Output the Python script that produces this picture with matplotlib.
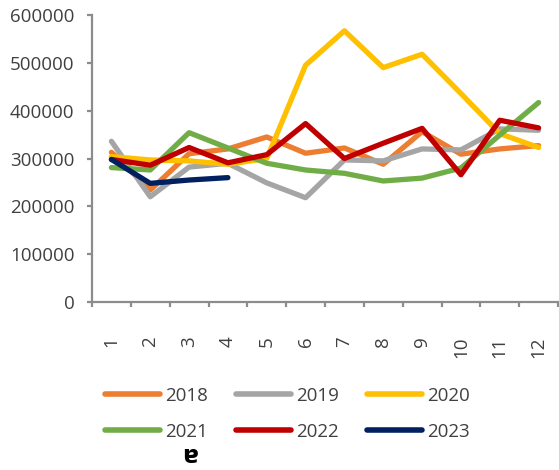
import matplotlib
matplotlib.use("Agg")
import matplotlib.pyplot as plt
from matplotlib.ticker import FixedLocator

months = list(range(1, 13))
tick_labels = [str(m) for m in months]
years = ["2018", "2019", "2020", "2021", "2022", "2023"]

y2018 = [313000, 234000, 310000, 320000, 345000, 311000, 322000, 288000, 356000, 309000, 320000, 327000]
y2019 = [336000, 220000, 282000, 290000, 249000, 218000, 297000, 295000, 320000, 318000, 362000, 359000]
y2020 = [304000, 297000, 295000, 288000, 300000, 495000, 567000, 490000, 518000, 436000, 352000, 323000]
y2021 = [281000, 276000, 354000, 322000, 290000, 276000, 269000, 253000, 259000, 280000, 349000, 417000]
y2022 = [298000, 286000, 323000, 291000, 308000, 373000, 300000, 332000, 363000, 266000, 380000, 364000]
y2023 = [298000, 248000, 255000, 260000]

series = [y2018, y2019, y2020, y2021, y2022, y2023]
colors = ["#ED7D31", "#A5A5A5", "#FFC000", "#70AD47", "#C00000", "#002060"]

plt.rcParams['font.family'] = ['Open Sans', 'DejaVu Sans']
txt = "#404040"

fig = plt.figure(figsize=(5.59, 4.70), dpi=100)
ax = fig.add_axes([92/559, (470-302)/470, 466/559, 287/470])

lines = {}
for name, vals, c in zip(years, series, colors):
    ln, = ax.plot(months[:len(vals)], vals, color=c, lw=3.8, label=name,
                  solid_capstyle='round', solid_joinstyle='round')
    lines[name] = ln

ax.set_xlim(0.5, 12.5)
ax.set_ylim(0, 600000)
ax.set_yticks(range(0, 600001, 100000))
ax.set_xticks(months)
ax.set_xticklabels(tick_labels, rotation=90, va='top', ha='center')
ax.xaxis.set_minor_locator(FixedLocator([m + 0.5 for m in range(0, 13)]))

for s in ["top", "right"]:
    ax.spines[s].set_visible(False)
for s in ["left", "bottom"]:
    ax.spines[s].set_color("#8C8C8C")
    ax.spines[s].set_linewidth(1.6)

ax.tick_params(axis='x', which='major', length=0, pad=25, labelsize=13.5, labelcolor=txt)
ax.tick_params(axis='x', which='minor', length=3.6, width=1.6, color="#8C8C8C", direction='out')
ax.tick_params(axis='y', length=3.6, width=1.6, color="#8C8C8C", pad=9, labelsize=13.5, labelcolor=txt)

# row-major order for a 3-column legend (matplotlib fills columns first)
order = ["2018", "2021", "2019", "2022", "2020", "2023"]
leg = fig.legend([lines[k] for k in order], order, loc='upper left',
                 bbox_to_anchor=(105/559, 1 - 387/470), ncol=3,
                 frameon=False, fontsize=13.5, handlelength=2.95, handletextpad=0.25,
                 columnspacing=1.5, labelspacing=0.95, borderaxespad=0, borderpad=0)
for t in leg.get_texts():
    t.set_color(txt)
for h in leg.legend_handles:
    h.set_linewidth(4)
    h.set_solid_capstyle('round')

fig.text(190/559, 1 - 456/470, "ɐ", family="DejaVu Sans", fontweight='bold', fontsize=17,
         ha='center', va='center', color='black')

fig.savefig("out.png", dpi=100)
